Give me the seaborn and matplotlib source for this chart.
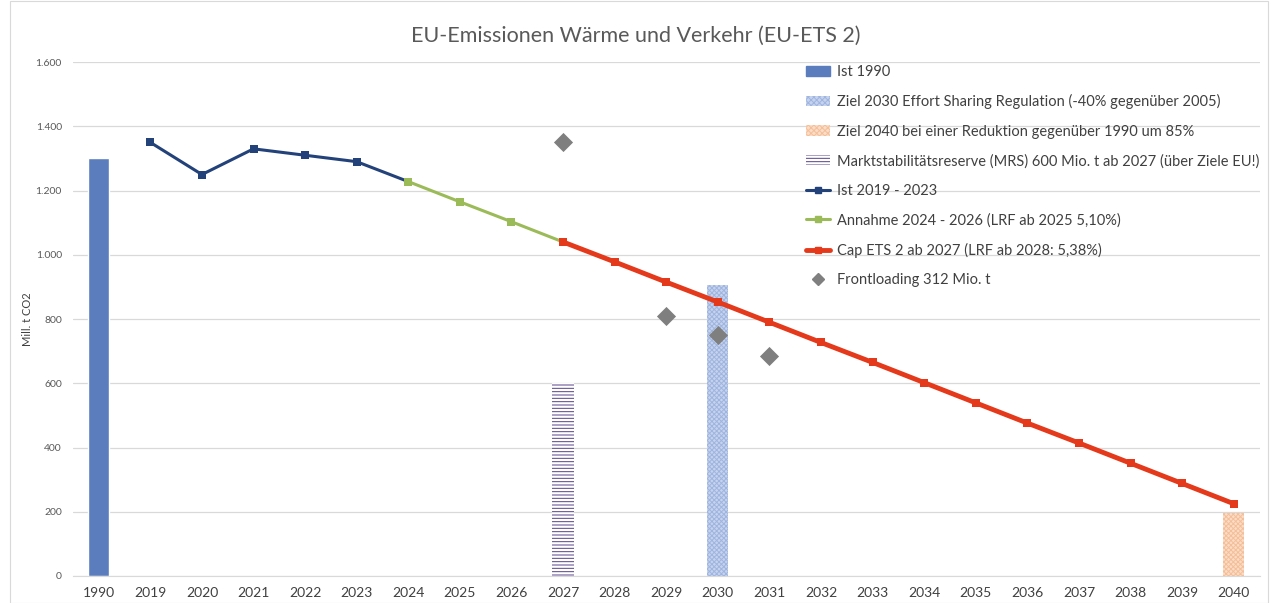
import matplotlib
matplotlib.use("Agg")
import matplotlib.pyplot as plt
import seaborn as sns
import pandas as pd
from matplotlib.patches import Patch
from matplotlib.lines import Line2D

# ------------------------------
# DATA
# ------------------------------
years = ["1990", "2019", "2020", "2021", "2022", "2023", "2024", "2025", "2026", "2027",
         "2028", "2029", "2030", "2031", "2032", "2033", "2034", "2035", "2036", "2037",
         "2038", "2039", "2040"]

ist_1990_year = ["1990"]
ist_1990_val = [1300]

ziel_2030_year = ["2030"]
ziel_2030_val = [905]

ziel_2040_year = ["2040"]
ziel_2040_val = [195]

mrs_year = ["2027"]
mrs_val = [600]

ist_years = ["2019", "2020", "2021", "2022", "2023", "2024"]
ist_vals = [1350, 1250, 1330, 1310, 1290, 1228]

annahme_years = ["2024", "2025", "2026", "2027"]
annahme_vals = [1228, 1165, 1103, 1040]

cap_years = ["2027", "2028", "2029", "2030", "2031", "2032", "2033", "2034", "2035",
             "2036", "2037", "2038", "2039", "2040"]
cap_vals = [1040, 978, 915, 853, 790, 727, 665, 602, 539, 476, 414, 351, 288, 225]

front_years = ["2027", "2029", "2030", "2031"]
front_vals = [1352, 811, 749, 686]

labels = [
    "Ist 1990",
    "Ziel 2030 Effort Sharing Regulation (-40% gegenüber 2005)",
    "Ziel 2040 bei einer Reduktion gegenüber 1990 um 85%",
    "Marktstabilitätsreserve (MRS) 600 Mio. t ab 2027 (über Ziele EU!)",
    "Ist 2019 - 2023",
    "Annahme 2024 - 2026 (LRF ab 2025 5,10%)",
    "Cap ETS 2 ab 2027 (LRF ab 2028: 5,38%)",
    "Frontloading 312 Mio. t",
]

# ------------------------------
# STYLE
# ------------------------------
sns.set_style("white")
plt.rcParams['font.family'] = ['Lato', 'DejaVu Sans']
plt.rcParams['hatch.linewidth'] = 0.7

C_BAR = "#5b7dbd"
C_IST = "#23427a"
C_ANN = "#9bbb59"
C_CAP = "#e5391b"
C_FRONT = "#7f7f7f"
C_MRS = "#54418a"

pos = {y: i for i, y in enumerate(years)}

def to_df(ys, vs):
    return pd.DataFrame({"x": [pos[y] for y in ys], "v": vs})

fig = plt.figure(figsize=(12.71, 6.03), dpi=100)
ax = fig.add_axes([0.0574, 0.0448, 0.9336, 0.8522])

W = 0.41
# Bars
d = to_df(ist_1990_year, ist_1990_val)
ax.bar(d["x"], d["v"], width=W, color=C_BAR, zorder=2)
d = to_df(ziel_2030_year, ziel_2030_val)
ax.bar(d["x"], d["v"], width=W, facecolor="#c5d3ee", edgecolor="#9fb4df",
       hatch="xxxxxxx", linewidth=0, zorder=2)
d = to_df(ziel_2040_year, ziel_2040_val)
ax.bar(d["x"], d["v"], width=W, facecolor="#fbdcc6", edgecolor="#f4bf98",
       hatch="xxxxxxx", linewidth=0, zorder=2)
d = to_df(mrs_year, mrs_val)
ax.bar(d["x"], d["v"], width=W, facecolor="white", edgecolor=C_MRS,
       hatch="-----", linewidth=0, zorder=2)

# Lines
sns.lineplot(data=to_df(ist_years, ist_vals), x="x", y="v", ax=ax, color=C_IST,
             linewidth=2.2, marker="s", markersize=6, markeredgewidth=0, zorder=3)
sns.lineplot(data=to_df(annahme_years, annahme_vals), x="x", y="v", ax=ax, color=C_ANN,
             linewidth=2.2, marker="s", markersize=6, markeredgewidth=0, zorder=4)
sns.lineplot(data=to_df(cap_years, cap_vals), x="x", y="v", ax=ax, color=C_CAP,
             linewidth=3.5, marker="s", markersize=6, markeredgewidth=0, zorder=5)
sns.scatterplot(data=to_df(front_years, front_vals), x="x", y="v", ax=ax, color=C_FRONT,
                marker="D", s=95, linewidth=0, zorder=6)

# Axes
ax.set_xlim(-0.5, len(years) - 0.5)
ax.set_ylim(0, 1600)
ax.set_xticks(range(len(years)))
ax.set_xticklabels(years, fontsize=10, color="#404040")
ax.set_yticks(range(0, 1601, 200))
ax.set_yticklabels(["0", "200", "400", "600", "800", "1.000", "1.200", "1.400", "1.600"],
                   fontsize=7.5, color="#595959")
ax.tick_params(axis="both", length=0, pad=8)
ax.yaxis.grid(True, color="#d9d9d9", linewidth=0.9, zorder=0)
ax.set_axisbelow(True)
for s in ["top", "right", "left"]:
    ax.spines[s].set_visible(False)
ax.spines["bottom"].set_color("#d9d9d9")
ax.set_xlabel("")
ax.set_ylabel("Mill. t CO2", fontsize=8, color="#404040", labelpad=2)

fig.text(0.5, 0.94, "EU-Emissionen Wärme und Verkehr (EU-ETS 2)", ha="center",
         va="center", fontsize=15.5, color="#595959")

# Legend
handles = [
    Patch(facecolor=C_BAR, edgecolor=C_BAR),
    Patch(facecolor="#c5d3ee", edgecolor="#9fb4df", hatch="xxxxxx", linewidth=0),
    Patch(facecolor="#fbdcc6", edgecolor="#f4bf98", hatch="xxxxxx", linewidth=0),
    Patch(facecolor="white", edgecolor=C_MRS, hatch="-----", linewidth=0),
    Line2D([], [], color=C_IST, linewidth=2.2, marker="s", markersize=5),
    Line2D([], [], color=C_ANN, linewidth=2.2, marker="s", markersize=5),
    Line2D([], [], color=C_CAP, linewidth=3.5, marker="s", markersize=5),
    Line2D([], [], color=C_FRONT, linestyle="none", marker="D", markersize=6),
]
leg = ax.legend(handles, labels, loc="upper left", bbox_to_anchor=(0.607, 1.02),
                frameon=False, fontsize=10.5, labelspacing=1.05, handlelength=1.6,
                handletextpad=0.5, labelcolor="#404040")

fig.add_artist(plt.Rectangle((0.008, 0.0), 0.99, 0.999, transform=fig.transFigure,
                             fill=False, edgecolor="#d9d9d9", linewidth=0.8))

fig.savefig("out.png", dpi=100)
plt.close()
